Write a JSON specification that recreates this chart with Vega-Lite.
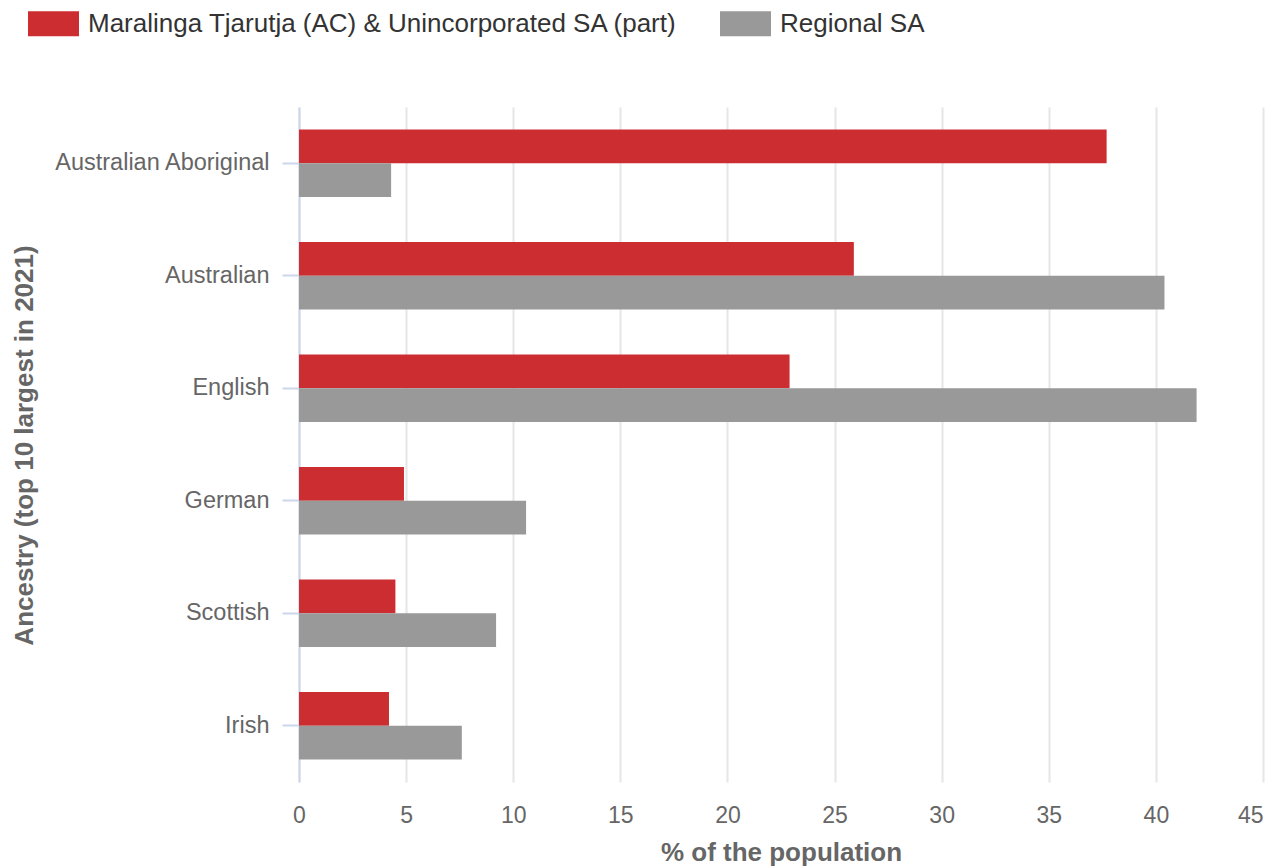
{
  "$schema": "https://vega.github.io/schema/vega-lite/v6.json",
  "autosize": {"type": "none"},
  "width": 964,
  "height": 675,
  "padding": {"left": 299, "top": 107, "right": 6, "bottom": 85},
  "background": "#ffffff",
  "config": {
    "view": {"stroke": null},
    "font": "Liberation Sans"
  },
  "data": {
    "values": [
      {"ancestry": "Australian Aboriginal", "series": "Maralinga Tjarutja (AC) & Unincorporated SA (part)", "pct": 37.7},
      {"ancestry": "Australian Aboriginal", "series": "Regional SA", "pct": 4.3},
      {"ancestry": "Australian", "series": "Maralinga Tjarutja (AC) & Unincorporated SA (part)", "pct": 25.9},
      {"ancestry": "Australian", "series": "Regional SA", "pct": 40.4},
      {"ancestry": "English", "series": "Maralinga Tjarutja (AC) & Unincorporated SA (part)", "pct": 22.9},
      {"ancestry": "English", "series": "Regional SA", "pct": 41.9},
      {"ancestry": "German", "series": "Maralinga Tjarutja (AC) & Unincorporated SA (part)", "pct": 4.9},
      {"ancestry": "German", "series": "Regional SA", "pct": 10.6},
      {"ancestry": "Scottish", "series": "Maralinga Tjarutja (AC) & Unincorporated SA (part)", "pct": 4.5},
      {"ancestry": "Scottish", "series": "Regional SA", "pct": 9.2},
      {"ancestry": "Irish", "series": "Maralinga Tjarutja (AC) & Unincorporated SA (part)", "pct": 4.2},
      {"ancestry": "Irish", "series": "Regional SA", "pct": 7.6}
    ]
  },
  "mark": {"type": "bar", "cornerRadius": 0},
  "encoding": {
    "y": {
      "field": "ancestry",
      "type": "nominal",
      "sort": ["Australian Aboriginal", "Australian", "English", "German", "Scottish", "Irish"],
      "scale": {"paddingInner": 0.4, "paddingOuter": 0.2},
      "axis": {
        "title": "Ancestry (top 10 largest in 2021)",
        "titleFont": "Liberation Sans",
        "titleFontSize": 26,
        "titleFontWeight": "bold",
        "titleColor": "#666666",
        "titleAngle": -90,
        "titleX": -267,
        "titleY": 338,
        "titleAlign": "center",
        "titleBaseline": "alphabetic",
        "labelFont": "Liberation Sans",
        "labelFontSize": 23.5,
        "labelColor": "#666666",
        "labelPadding": 13,
        "labelLimit": 0,
        "tickSize": 17,
        "tickColor": "#ccd6eb",
        "tickWidth": 2,
        "domainColor": "#ccd6eb",
        "domainWidth": 2,
        "grid": false
      }
    },
    "yOffset": {
      "field": "series",
      "type": "nominal",
      "sort": ["Maralinga Tjarutja (AC) & Unincorporated SA (part)", "Regional SA"],
      "scale": {"paddingInner": 0, "paddingOuter": 0}
    },
    "x": {
      "field": "pct",
      "type": "quantitative",
      "scale": {"domain": [0, 45], "nice": false},
      "axis": {
        "title": "% of the population",
        "titleFont": "Liberation Sans",
        "titleFontSize": 26,
        "titleFontWeight": "bold",
        "titleColor": "#666666",
        "titlePadding": 12,
        "values": [0, 5, 10, 15, 20, 25, 30, 35, 40, 45],
        "labelFont": "Liberation Sans",
        "labelFontSize": 23,
        "labelColor": "#666666",
        "labelPadding": 22,
        "labelAlign": {"condition": {"test": "datum.value == 45", "value": "right"}, "value": "center"},
        "ticks": false,
        "tickSize": 0,
        "domain": false,
        "grid": true,
        "gridColor": "#e6e6e6",
        "gridWidth": 2,
        "labelFlush": false
      }
    },
    "color": {
      "field": "series",
      "type": "nominal",
      "sort": ["Maralinga Tjarutja (AC) & Unincorporated SA (part)", "Regional SA"],
      "scale": {
        "domain": ["Maralinga Tjarutja (AC) & Unincorporated SA (part)", "Regional SA"],
        "range": ["#cc2d30", "#999999"]
      },
      "legend": {
        "title": null,
        "orient": "none",
        "direction": "horizontal",
        "legendX": -271,
        "legendY": -109,
        "padding": 0,
        "symbolType": "M-1,-0.49H1V0.49H-1Z",
        "symbolSize": 2601,
        "symbolStrokeWidth": 0,
        "symbolOpacity": 1,
        "labelFont": "Liberation Sans",
        "labelFontSize": 26,
        "labelColor": "#333333",
        "labelOffset": 9,
        "labelLimit": 0,
        "columnPadding": 42
      }
    }
  }
}
